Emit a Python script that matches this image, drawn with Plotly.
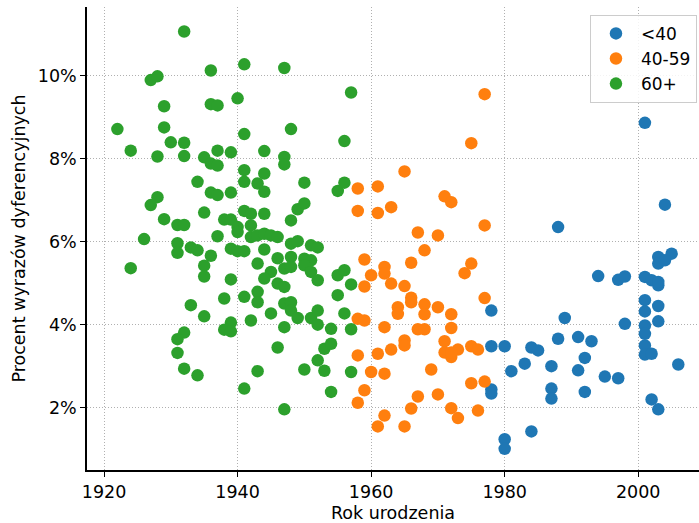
import plotly.graph_objects as go

# <40
young_year = [2001, 2004, 1988, 2003, 2005, 2003, 2004, 1994, 1997, 1998, 2001, 2002, 2003, 2003,
              2001, 2001, 2003, 1989, 1978, 1998, 2001, 2001, 2003, 2001, 2001, 2002, 1991, 1993,
              1992, 1991, 1995, 1997, 1992, 2006, 2002, 2003, 1978, 1980, 1981, 1983, 1984, 1985,
              1987, 1988, 1987, 1987, 1978, 1978, 1984, 1980, 1980]
young_pct = [8.86, 6.89, 6.35, 5.63, 5.71, 5.47, 5.55, 5.17, 5.08, 5.16, 5.15, 5.07, 4.95, 5.03,
             4.59, 4.32, 4.45, 4.16, 4.34, 4.02, 3.98, 3.78, 4.08, 3.50, 3.28, 3.30, 3.70, 3.60,
             3.20, 2.90, 2.75, 2.71, 2.38, 3.04, 2.20, 1.96, 3.48, 3.48, 2.88, 3.06, 3.45, 3.38,
             3.00, 3.66, 2.46, 2.22, 2.44, 2.34, 1.43, 1.24, 1.01]

# 40-59
mid_year = [1977, 1975, 1958, 1961, 1965, 1958, 1961, 1963, 1959, 1960, 1962, 1962, 1963, 1965,
            1966, 1959, 1964, 1964, 1958, 1959, 1962, 1958, 1961, 1963, 1965, 1965, 1960, 1962,
            1959, 1958, 1962, 1961, 1965, 1966, 1971, 1972, 1977, 1967, 1970, 1968, 1975, 1974,
            1966, 1966, 1968, 1968, 1970, 1972, 1977, 1967, 1968, 1972, 1971, 1971, 1972, 1973,
            1972, 1975, 1976, 1969, 1975, 1977, 1967, 1970, 1972, 1973, 1976]
mid_pct = [9.55, 8.37, 7.28, 7.33, 7.69, 6.74, 6.69, 6.83, 5.57, 5.19, 5.39, 5.23, 4.99, 4.93,
           5.49, 4.92, 4.42, 4.26, 4.14, 4.10, 3.94, 3.26, 3.30, 3.40, 3.62, 3.50, 2.86, 2.82,
           2.42, 2.12, 1.81, 1.55, 1.55, 1.98, 7.09, 6.95, 6.39, 6.22, 6.15, 5.79, 5.47, 5.24,
           4.65, 4.54, 4.49, 4.25, 4.42, 4.25, 4.64, 3.89, 3.89, 3.92, 3.60, 3.33, 3.22, 3.40,
           3.33, 3.48, 3.40, 2.92, 2.59, 2.63, 2.27, 2.32, 1.99, 1.75, 1.93]

# 60+
old_year = [1932, 1941, 1936, 1927, 1928, 1940, 1929, 1936, 1937, 1922, 1929, 1941, 1924, 1928,
            1930, 1932, 1932, 1935, 1937, 1939, 1936, 1937, 1941, 1941, 1934, 1936, 1937, 1939,
            1928, 1927, 1935, 1941, 1929, 1931, 1932, 1938, 1939, 1940, 1940, 1942, 1937, 1942,
            1926, 1931, 1931, 1933, 1934, 1936, 1939, 1940, 1941, 1935, 1935, 1924, 1939, 1938,
            1941, 1933, 1935, 1939, 1942, 1938, 1939, 1932, 1931, 1931, 1932, 1934, 1941, 1947,
            1957, 1948, 1956, 1944, 1947, 1947, 1944, 1943, 1944, 1950, 1955, 1956, 1949, 1950,
            1942, 1944, 1948, 1943, 1944, 1945, 1946, 1948, 1949, 1951, 1952, 1944, 1946, 1948,
            1950, 1951, 1943, 1947, 1948, 1950, 1945, 1944, 1946, 1947, 1951, 1952, 1955, 1956,
            1957, 1943, 1943, 1947, 1948, 1948, 1945, 1955, 1956, 1949, 1951, 1952, 1952, 1947,
            1954, 1957, 1946, 1953, 1954, 1952, 1943, 1950, 1953, 1957, 1954, 1947]
old_pct = [11.06, 10.27, 10.12, 9.89, 9.98, 9.45, 9.26, 9.31, 9.28, 8.71, 8.75, 8.59, 8.19, 8.05,
           8.39, 8.38, 8.06, 8.03, 8.19, 8.15, 7.88, 7.83, 7.72, 7.44, 7.44, 7.18, 7.12, 7.18,
           7.07, 6.88, 6.70, 6.74, 6.54, 6.40, 6.40, 6.53, 6.53, 6.35, 6.23, 6.39, 6.13, 6.11,
           6.06, 5.96, 5.73, 5.86, 5.79, 5.66, 5.83, 5.77, 5.77, 5.42, 5.16, 5.36, 5.09, 4.63,
           4.67, 4.47, 4.20, 4.05, 4.10, 3.88, 3.84, 3.81, 3.65, 3.32, 2.94, 2.78, 2.46, 10.18,
           9.59, 8.71, 8.42, 8.18, 8.04, 7.86, 7.64, 7.40, 7.20, 7.42, 7.22, 7.42, 6.78, 6.92,
           6.67, 6.67, 6.51, 6.15, 6.19, 6.15, 6.11, 5.95, 6.01, 5.91, 5.86, 5.81, 5.60, 5.63,
           5.59, 5.55, 5.47, 5.35, 5.39, 5.43, 5.27, 5.11, 4.99, 4.91, 5.27, 5.07, 5.19, 5.31,
           4.97, 4.79, 4.54, 4.51, 4.54, 4.34, 4.27, 4.71, 4.27, 4.16, 4.16, 4.34, 4.00, 3.94,
           3.90, 3.89, 3.45, 3.42, 3.54, 3.14, 2.88, 2.92, 2.89, 2.86, 2.38, 1.96]

groups = [("<40", young_year, young_pct, "#1f77b4"),
          ("40-59", mid_year, mid_pct, "#ff7f0e"),
          ("60+", old_year, old_pct, "#2ca02c")]

x_ticks = [1920, 1940, 1960, 1980, 2000]
y_ticks = [2, 4, 6, 8, 10]
y_tick_labels = ["2%", "4%", "6%", "8%", "10%"]

fig = go.Figure()
for name, xs, ys, color in groups:
    fig.add_trace(go.Scatter(x=xs, y=ys, mode="markers", name=name, legendgroup=name,
                             marker=dict(size=12.5, color=color, line=dict(width=0))))

font = "DejaVu Sans, sans-serif"
fig.update_layout(
    width=699, height=523,
    margin=dict(l=87, r=0, t=7, b=53, autoexpand=False),
    paper_bgcolor="white", plot_bgcolor="white",
    font=dict(family=font, size=17.5, color="black"),
    showlegend=True,
    legend=dict(x=0.9967, y=0.983, xanchor="right", yanchor="top",
                bgcolor="rgba(255,255,255,0.85)", bordercolor="#cccccc", borderwidth=1,
                font=dict(size=17), traceorder="grouped", tracegroupgap=0,
                itemwidth=40),
    xaxis=dict(range=[1917.45, 2009.1], tickvals=x_ticks, showgrid=True,
               gridcolor="#b0b0b0", griddash="1px,2px", gridwidth=1,
               showline=True, linecolor="black", linewidth=1.6,
               ticks="outside", ticklen=5, tickwidth=1.3, tickcolor="black",
               automargin=False, zeroline=False,
               title=dict(text="Rok urodzenia", standoff=6, font=dict(size=17.5))),
    yaxis=dict(range=[0.5, 11.65], tickvals=y_ticks, ticktext=y_tick_labels, showgrid=True,
               gridcolor="#b0b0b0", griddash="1px,2px", gridwidth=1,
               showline=True, linecolor="black", linewidth=1.6,
               ticks="outside", ticklen=5, tickwidth=1.3, tickcolor="black",
               automargin=False, zeroline=False,
               title=dict(text="Procent wyrazów dyferencyjnych", standoff=8,
                          font=dict(size=17.5))),
)

fig.write_html("out.html", config={"displayModeBar": False},
               post_script="document.body.style.margin='0px';")
